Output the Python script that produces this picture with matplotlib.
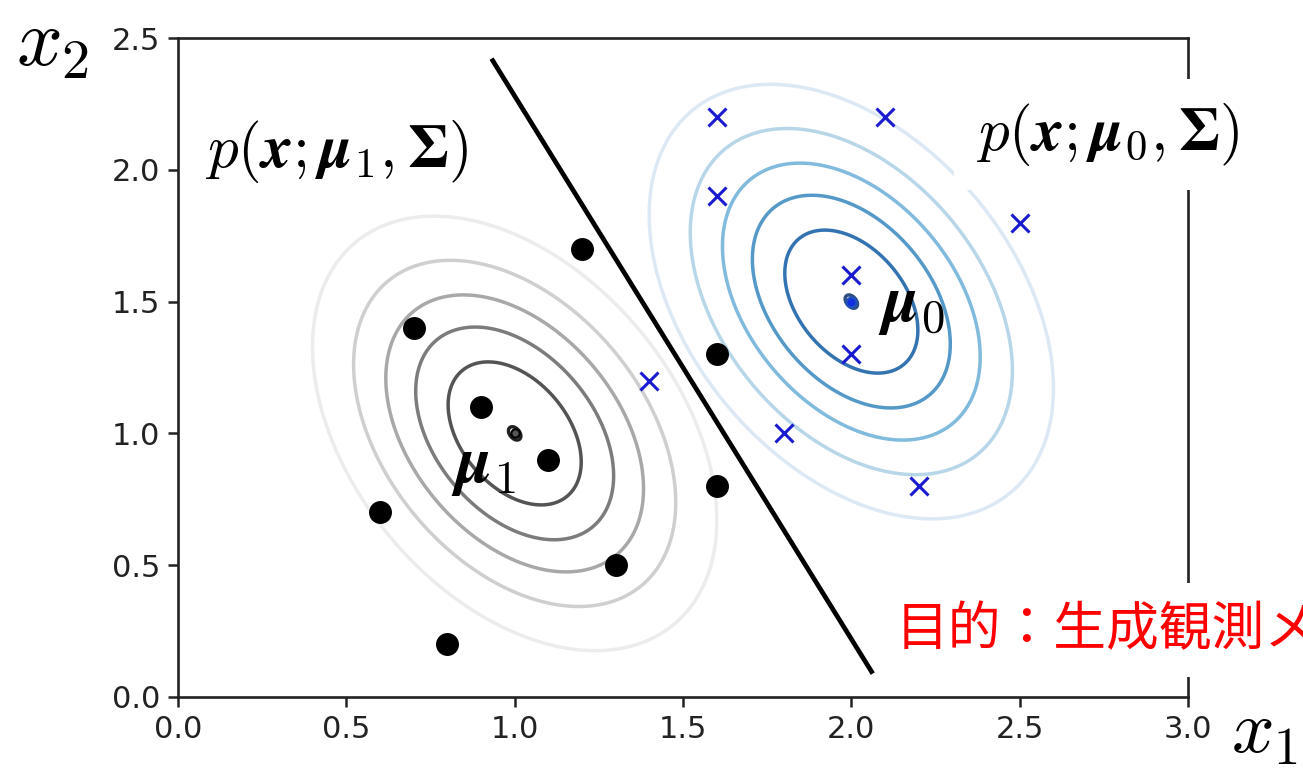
import numpy as np
import matplotlib
matplotlib.use("Agg")
import matplotlib.pyplot as plt

plt.rcParams["mathtext.fontset"] = "cm"

# Class 1 samples (black dots)
class1_x = [1.2, 0.7, 0.9, 1.1, 0.6, 1.3, 0.8, 1.6, 1.6]
class1_y = [1.7, 1.4, 1.1, 0.9, 0.7, 0.5, 0.2, 1.3, 0.8]

# Class 0 samples (blue crosses)
class0_x = [1.6, 2.1, 1.6, 2.5, 2.0, 2.0, 1.4, 1.8, 2.2]
class0_y = [2.2, 2.2, 1.9, 1.8, 1.6, 1.3, 1.2, 1.0, 0.8]

# Gaussian parameters (shared covariance)
mu0 = [2.0, 1.5]
mu1 = [1.0, 1.0]
sigma = [[0.112, -0.0613],
         [-0.0613, 0.211]]

# Contour levels as fractions of the peak density; the colour scale starts at 0.04
level_fracs = [0.20, 0.36, 0.52, 0.68, 0.84, 0.9985]
color_floor = 0.04

# Horizontal extent of the drawn decision boundary
boundary_x = [0.935, 2.06]

x_ticks = [0.0, 0.5, 1.0, 1.5, 2.0, 2.5, 3.0]
y_ticks = [0.0, 0.5, 1.0, 1.5, 2.0, 2.5]

S = np.array(sigma)
S_inv = np.linalg.inv(S)
peak = 1.0 / (2 * np.pi * np.sqrt(np.linalg.det(S)))


def gauss_pdf(X, Y, mu):
    dx = X - mu[0]
    dy = Y - mu[1]
    q = S_inv[0, 0] * dx * dx + 2 * S_inv[0, 1] * dx * dy + S_inv[1, 1] * dy * dy
    return peak * np.exp(-0.5 * q)


fig = plt.figure(figsize=(13.03, 7.69), dpi=100)
ax = fig.add_axes([178 / 1303, 1 - 697 / 769, 1010 / 1303, 659 / 769])

gx = np.linspace(0, 3, 1500)
gy = np.linspace(0, 2.5, 1250)
X, Y = np.meshgrid(gx, gy)
levels = np.array(level_fracs) * peak
vmin, vmax = color_floor * peak, levels[-1]

ax.contour(X, Y, gauss_pdf(X, Y, mu1), levels=levels, cmap="Greys",
           vmin=vmin, vmax=vmax * 1.12, linewidths=2.5, zorder=1)
ax.contour(X, Y, gauss_pdf(X, Y, mu0), levels=levels, cmap="Blues",
           vmin=vmin, vmax=vmax, linewidths=2.5, alpha=0.85, zorder=1)

# LDA decision boundary: w.x = w.(mu0+mu1)/2
w = S_inv @ (np.array(mu0) - np.array(mu1))
c = w @ (np.array(mu0) + np.array(mu1)) / 2
bx = np.array(boundary_x)
by = (c - w[0] * bx) / w[1]
ax.plot(bx, by, color="black", lw=3.4, zorder=3)

ax.plot(class1_x, class1_y, "o", color="black", ms=15.5, zorder=4)
ax.plot(class0_x, class0_y, "x", color="#1a1ad0", ms=13, mew=2.2, zorder=4)

ax.plot([mu1[0]], [mu1[1]], "o", color="#555555", mec="black", ms=6, mew=1.5, zorder=5)
ax.plot([mu0[0]], [mu0[1]], "o", color="#1030e0", mec="#2050c0", ms=7, mew=1.5, zorder=5)

ax.text(0.81, 0.88, r"$\mathbfit{\mu}_1$", fontsize=48, ha="left", va="center", zorder=6)
ax.text(2.08, 1.49, r"$\mathbfit{\mu}_0$", fontsize=48, ha="left", va="center", zorder=6)

ax.text(0.08, 2.07, r"$p(\mathbfit{x};\mathbfit{\mu}_1,\mathbf{Σ})$",
        fontsize=44, ha="left", va="center", zorder=6)
fig.text(976 / 1303, 1 - 134 / 769, r"$p(\mathbfit{x};\mathbfit{\mu}_0,\mathbf{Σ})$",
         fontsize=44, ha="left", va="center", zorder=6,
         bbox=dict(facecolor="white", edgecolor="none", pad=16))

ax.set_xlim(0, 3)
ax.set_ylim(0, 2.5)
ax.set_xticks(x_ticks)
ax.set_yticks(y_ticks)
ax.set_xticklabels([f"{v:.1f}" for v in x_ticks])
ax.set_yticklabels([f"{v:.1f}" for v in y_ticks])
ax.tick_params(labelsize=22, length=7, width=1.8, colors="#222222", pad=6)
for sp in ax.spines.values():
    sp.set_linewidth(1.9)
    sp.set_color("#222222")

fig.text(16 / 1303, 1 - 4 / 769, r"$x_2$", fontsize=58, ha="left", va="top")
fig.text(1231 / 1303, 1 / 769, r"$x_1$", fontsize=54, ha="left", va="bottom")

fig.text(896 / 1303, 1 - 630 / 769, "目的：生成観測メ", color="#ff0000", fontsize=38,
         family=["Noto Sans CJK JP", "DejaVu Sans"], ha="left", va="center",
         bbox=dict(facecolor="white", edgecolor="none", pad=14))

fig.savefig("out.png", dpi=100)
